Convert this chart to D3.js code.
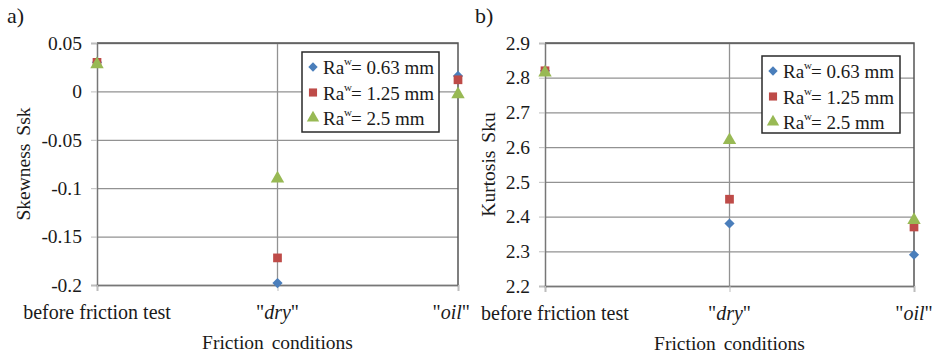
<!DOCTYPE html>
<html>
<head>
<meta charset="utf-8">
<script src="https://cdn.jsdelivr.net/npm/d3@7"></script>
<style>
  body { margin: 0; background: #fff; }
  svg text { font-family: "Liberation Serif", "Times New Roman", Tinos, Times, "DejaVu Serif", serif; fill: #1a1a1a; }
</style>
</head>
<body>
<svg id="chart" width="933" height="354"></svg>
<script>
// Categories along the x axis (shared by both panels).
const categories = ["before friction test", "\"dry\"", "\"oil\""];
const seriesNames = ["0.63 mm", "1.25 mm", "2.5 mm"];
const seriesColors = ["#4a7ebb", "#be4b48", "#98b954"];
const seriesShapes = ["diamond", "square", "triangle"];

// Panel a) skewness Ssk
const skew063 = [0.03, -0.198, 0.016];
const skew125 = [0.03, -0.172, 0.012];
const skew25 = [0.028, -0.09, -0.003];
const skewTicks = [-0.2, -0.15, -0.1, -0.05, 0, 0.05];

// Panel b) kurtosis Sku
const kurt063 = [2.82, 2.38, 2.29];
const kurt125 = [2.82, 2.45, 2.37];
const kurt25 = [2.815, 2.62, 2.39];
const kurtTicks = [2.2, 2.3, 2.4, 2.5, 2.6, 2.7, 2.8, 2.9];

const SERIF = "\"Liberation Serif\", \"Times New Roman\", Tinos, Times, serif";
const svg = d3.select("#chart");

// Excel-like marker: diamond = square turned 45 degrees
function marker(sel, shape, size) {
  const type = shape === "triangle" ? d3.symbolTriangle : d3.symbolSquare;
  sel.attr("d", d3.symbol().type(type).size(size));
  return shape === "diamond" ? " rotate(45)" : "";
}

function drawPanel(opts) {
  const { panelX, panelW, plot, ticks, fmt, series, yTitle, yTitleX, tag, tagX, legendBox } = opts;
  const g = svg.append("g").attr("font-family", SERIF);

  const x = d3.scalePoint().domain(categories).range([plot.left, plot.right]).padding(0);
  const y = d3.scaleLinear().domain(d3.extent(ticks)).range([plot.bottom, plot.top]);

  // Panel tag
  g.append("text").attr("x", tagX).attr("y", 23)
    .style("font-size", "22px").text(tag);

  // Horizontal gridlines
  g.append("g")
    .attr("transform", `translate(${plot.left},0)`)
    .call(d3.axisLeft(y).tickValues(ticks).tickSize(-(plot.right - plot.left)).tickFormat(""))
    .call(a => a.select(".domain").remove())
    .call(a => a.selectAll(".tick line").attr("stroke", "#929292").attr("stroke-width", 1.3));

  // Vertical gridline at the middle category
  g.append("line")
    .attr("x1", x(categories[1])).attr("x2", x(categories[1]))
    .attr("y1", plot.top).attr("y2", plot.bottom)
    .attr("stroke", "#929292").attr("stroke-width", 1.3);

  // Plot border: top and right darker
  g.append("path")
    .attr("d", `M${plot.left},${plot.top}H${plot.right}V${plot.bottom}`)
    .attr("fill", "none").attr("stroke", "#555").attr("stroke-width", 1.5);

  // Y axis
  const yAxis = g.append("g")
    .attr("transform", `translate(${plot.left},0)`)
    .call(d3.axisLeft(y).tickValues(ticks).tickSize(6).tickPadding(9).tickFormat(fmt))
    .attr("font-family", SERIF);
  yAxis.select(".domain").attr("stroke", "#777").attr("stroke-width", 1.5);
  yAxis.selectAll(".tick line").attr("stroke", "#bdbdbd");
  yAxis.selectAll(".tick text")
    .style("font-size", "19.5px").attr("fill", "#1a1a1a");

  // X axis
  const xAxis = g.append("g")
    .attr("transform", `translate(0,${plot.bottom})`)
    .call(d3.axisBottom(x).tickSize(6).tickFormat(""));
  xAxis.select(".domain").attr("stroke", "#777").attr("stroke-width", 1.5);
  xAxis.selectAll(".tick line").attr("stroke", "#bdbdbd");

  // Category labels, "dry"/"oil" in italics between upright quotes
  categories.forEach(c => {
    const t = g.append("text")
      .attr("x", x(c)).attr("y", plot.bottom + 34)
      .attr("text-anchor", "middle").style("font-size", "20px");
    if (c.startsWith("\"")) {
      t.append("tspan").text("\"");
      t.append("tspan").style("font-style", "italic").text(c.slice(1, -1));
      t.append("tspan").text("\"");
    } else {
      t.text(c);
    }
    // keep label inside the panel
    const bb = t.node().getBBox();
    let dx = 0;
    if (bb.x < panelX + 18) dx = panelX + 18 - bb.x;
    if (bb.x + bb.width > panelX + panelW) dx = panelX + panelW - (bb.x + bb.width);
    t.attr("x", x(c) + dx);
  });

  // Axis titles
  g.append("text")
    .attr("x", (plot.left + plot.right) / 2).attr("y", plot.bottom + 64)
    .attr("text-anchor", "middle").style("font-size", "19.5px").style("word-spacing", "3px")
    .text("Friction conditions");
  g.append("text")
    .attr("transform", `translate(${yTitleX},${(plot.top + plot.bottom) / 2}) rotate(-90)`)
    .attr("text-anchor", "middle").style("font-size", "19.5px").style("word-spacing", "3px")
    .text(yTitle);

  // Markers
  series.forEach((vals, i) => {
    g.append("g").selectAll("path").data(vals).join("path")
      .each(function (d, j) {
        const rot = marker(d3.select(this), seriesShapes[i], i === 0 ? 52 : i === 1 ? 76 : 78);
        d3.select(this).attr("transform", `translate(${x(categories[j])},${y(d)})${rot}`);
      })
      .attr("fill", seriesColors[i]);
  });

  // Legend
  const lg = g.append("g");
  lg.append("rect")
    .attr("x", legendBox.x).attr("y", legendBox.y)
    .attr("width", legendBox.w).attr("height", legendBox.h)
    .attr("fill", "#fff").attr("stroke", "#2a2a2a").attr("stroke-width", 1.5);
  seriesNames.forEach((name, i) => {
    const cy = legendBox.y + 15 + i * 25.5;
    const p = lg.append("path");
    const rot = marker(p, seriesShapes[i], i === 0 ? 44 : 66);
    p.attr("transform", `translate(${legendBox.x + 11},${cy})${rot}`).attr("fill", seriesColors[i]);
    const t = lg.append("text")
      .attr("x", legendBox.x + 21).attr("y", cy + 7)
      .style("font-size", "19px");
    t.append("tspan").text("Ra");
    t.append("tspan").attr("dy", -9).style("font-size", "11px").text("w");
    t.append("tspan").attr("dx", -1).attr("dy", 9).text("= " + name);
  });
}

drawPanel({
  panelX: 0, panelW: 470,
  plot: { left: 97, right: 458, top: 43, bottom: 285 },
  ticks: skewTicks, fmt: d => String(d),
  series: [skew063, skew125, skew25],
  yTitle: "Skewness Ssk", yTitleX: 30, tag: "a)", tagX: 7,
  legendBox: { x: 302, y: 52, w: 137, h: 80 }
});

drawPanel({
  panelX: 463, panelW: 470,
  plot: { left: 545, right: 914, top: 43, bottom: 286 },
  ticks: kurtTicks, fmt: d3.format(".1f"),
  series: [kurt063, kurt125, kurt25],
  yTitle: "Kurtosis  Sku", yTitleX: 495, tag: "b)", tagX: 475,
  legendBox: { x: 762, y: 56, w: 138, h: 77 }
});
</script>
</body>
</html>
